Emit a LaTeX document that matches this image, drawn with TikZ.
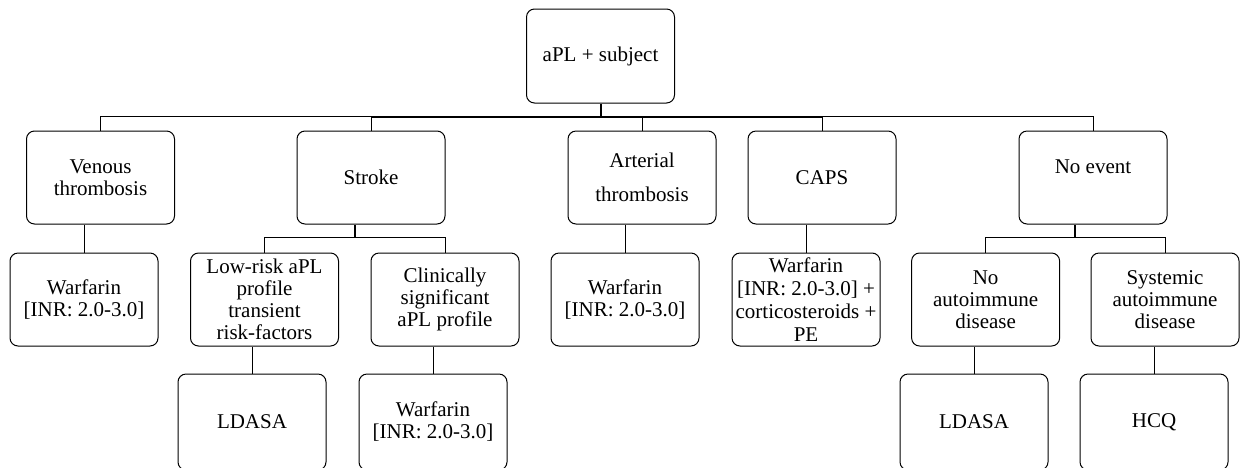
\documentclass[tikz,border=0pt]{standalone}
\usepackage{fontspec}
\setmainfont{Liberation Serif}
\usetikzlibrary{calc}

\tikzset{
  box/.style={draw, rounded corners=4pt, line width=0.5pt,
    minimum width=74pt, minimum height=46.5pt, inner sep=1pt,
    align=center, font=\fontsize{10.5}{11}\selectfont},
  link/.style={line width=0.5pt},
  boldlink/.style={line width=1pt}
}

\begin{document}
\begin{tikzpicture}[x=0.5pt,y=-0.5pt]
    \useasboundingbox (0,0) rectangle (1241,467);
    \clip (0,0) rectangle (1241,467); % низ нижних блоков обрезан
    % корень
    \node[box, minimum height=47pt] (root) at (600.5,56) {aPL + subject};
    % первый уровень
    \node[box] (ven)    at (100.5,177.5) {Venous\\thrombosis};
    \node[box] (stroke) at (371,177.5)   {Stroke};
    \node[box] (art)    at (642,177.5)   {Arterial\\[6pt]thrombosis};
    \node[box] (caps)   at (822,177.5)   {CAPS};
    \node[box] (noev)   at (1093,177.5)  {No event\\~};
    % второй уровень
    \node[box] (warfA)   at (84,299.5)    {Warfarin\\{}[INR: 2.0-3.0]};
    \node[box] (lowrisk) at (264.5,299.5) {Low-risk aPL\\profile\\transient\\risk-factors};
    \node[box] (clin)    at (445,299.5)   {Clinically\\significant\\aPL profile};
    \node[box] (warfC)   at (625,299.5)   {Warfarin\\{}[INR: 2.0-3.0]};
    \node[box, font=\fontsize{10.5}{11.6}\selectfont] (capsw) at (806,299.5)
        {Warfarin\\{}[INR: 2.0-3.0] +\\corticosteroids +\\PE};
    \node[box] (noai)  at (985.6,299.5) {No\\autoimmune\\disease};
    \node[box] (sysai) at (1165,299.5)  {Systemic\\autoimmune\\disease};
    % третий уровень
    \node[box, minimum height=48pt] (ldasaA) at (252,422)  {LDASA};
    \node[box, minimum height=48pt] (warfB)  at (433,422)  {Warfarin\\{}[INR: 2.0-3.0]};
    \node[box, minimum height=48pt] (ldasaB) at (974,422)  {LDASA};
    \node[box, minimum height=48pt] (hcq)    at (1154,422) {HCQ};

    % главная шина
    \draw[link] (ven.north) -- ++(0,-14) -| (noev.north);
    \draw[boldlink] (root.south) -- ++(0,14);
    \draw[boldlink] ($(stroke.north)+(0,-14)$) -- ($(caps.north)+(0,-14)$);
    \foreach \n in {stroke,art,caps}
        \draw[link] (\n.north) -- ++(0,-14);
    % ветви второго уровня
    \draw[link] (warfA.north) -- (warfA.north |- ven.south);
    \draw[link] (warfC.north) -- (warfC.north |- art.south);
    \draw[link] (capsw.north) -- (capsw.north |- caps.south);
    \draw[link] (lowrisk.north) -- ++(0,-15) -| (clin.north);
    \coordinate (sbusA) at ($(lowrisk.north)!0.5!(clin.north)+(0,-15)$);
    \draw[boldlink] (sbusA) -- (sbusA |- stroke.south);
    \draw[link] (noai.north) -- ++(0,-15) -| (sysai.north);
    \coordinate (sbusB) at ($(noai.north)!0.5!(sysai.north)+(0,-15)$);
    \draw[boldlink] (sbusB) -- (sbusB |- noev.south);
    % ветви третьего уровня
    \draw[link] (ldasaA.north) -- (ldasaA.north |- lowrisk.south);
    \draw[link] (warfB.north) -- (warfB.north |- clin.south);
    \draw[link] (ldasaB.north) -- (ldasaB.north |- noai.south);
    \draw[link] (hcq.north) -- (hcq.north |- sysai.south);
\end{tikzpicture}
\end{document}
